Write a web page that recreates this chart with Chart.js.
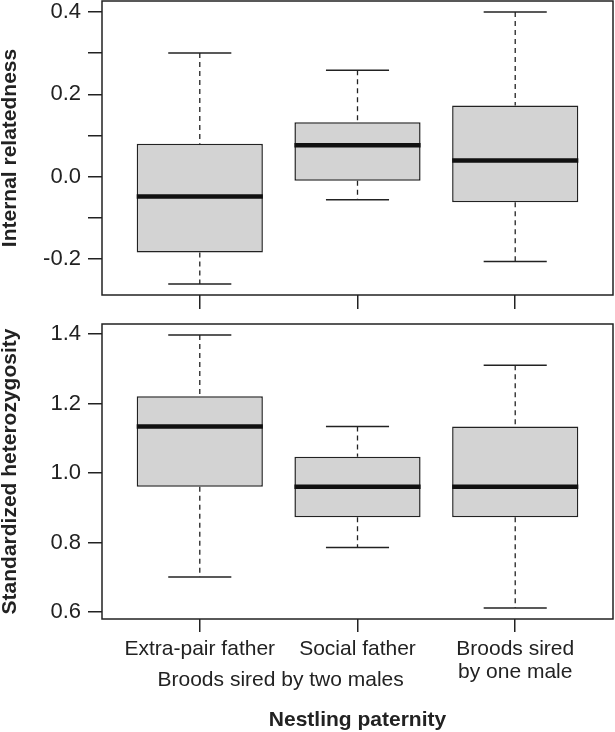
<!doctype html>
<html lang="en">
<head>
<meta charset="utf-8">
<title>Nestling paternity</title>
<script src="https://cdn.jsdelivr.net/npm/chart.js@4.4.0/dist/chart.umd.min.js"></script>
<style>
  html, body { margin: 0; padding: 0; background: #fff; }
  #wrap { position: relative; width: 615px; height: 732px; }
  #chartTop { position: absolute; left: 0; top: 0; }
  #chartBottom { position: absolute; left: 0; top: 310px; }
</style>
</head>
<body>
<div id="wrap">
  <canvas id="chartTop" width="615" height="310"></canvas>
  <canvas id="chartBottom" width="615" height="422"></canvas>
</div>
<script>
const categories = [["Extra-pair father"], ["Social father"], ["Broods sired", "by one male"]];
const groupLabel = "Broods sired by two males";
const xTitle = "Nestling paternity";

// internal relatedness (top panel)
const irLow  = [-0.261, -0.056, -0.206];
const irQ1   = [-0.184, -0.010, -0.062];
const irMed  = [-0.048,  0.076,  0.039];
const irQ3   = [ 0.080,  0.132,  0.173];
const irHigh = [ 0.300,  0.258,  0.400];
const irTicks  = [-0.2, -0.1, 0, 0.1, 0.2, 0.3, 0.4];
const irLabels = ["-0.2", "", "0.0", "", "0.2", "", "0.4"];

// standardized heterozygosity (bottom panel)
const shLow  = [0.701, 0.786, 0.612];
const shQ1   = [0.961, 0.873, 0.873];
const shMed  = [1.134, 0.961, 0.961];
const shQ3   = [1.221, 1.047, 1.134];
const shHigh = [1.397, 1.134, 1.310];
const shTicks  = [0.6, 0.8, 1.0, 1.2, 1.4];
const shLabels = ["0.6", "0.8", "1.0", "1.2", "1.4"];

const FONT = '"Liberation Sans", Arial, sans-serif';
const INK = '#222';

const frame = {
    id: 'frame',
    afterDatasetsDraw(chart) {
        const a = chart.chartArea, c = chart.ctx;
        c.save();
        c.strokeStyle = INK;
        c.lineWidth = 1.5;
        c.strokeRect(a.left, a.top, a.right - a.left, a.bottom - a.top);
        c.restore();
    }
};

const groupText = {
    id: 'groupText',
    afterDraw(chart) {
        const s = chart.scales.x, c = chart.ctx;
        c.save();
        c.font = '21px ' + FONT;
        c.fillStyle = INK;
        c.textAlign = 'center';
        c.textBaseline = 'middle';
        c.fillText(groupLabel, s.getPixelForValue(1.5) + 2, s.top + 61);
        c.restore();
    }
};

// half width of a mark, in pixels, for a width given in x units
let halfPx = (ctx, w) => {
    const s = ctx.chart.scales.x;
    return Math.abs(s.getPixelForValue(1 + w) - s.getPixelForValue(1));
};

let boxChart = (id, d) => {
    const xs = categories.map((c, i) => i + 1);
    const lo = Math.min(...d.low), hi = Math.max(...d.high);
    const ext = (hi - lo) * 0.04;

    let whisk = [];
    xs.forEach((x, i) => {
        whisk.push({x: x, y: d.high[i]}, {x: x, y: d.q3[i]}, {x: x, y: null},
                   {x: x, y: d.q1[i]}, {x: x, y: d.low[i]}, {x: x, y: null});
    });
    let caps = [];
    xs.forEach((x, i) => { caps.push({x: x, y: d.high[i]}, {x: x, y: d.low[i]}); });

    return new Chart(document.getElementById(id), {
        type: 'bar',
        data: {
            datasets: [
                {
                    type: 'line', order: 0, label: 'median',
                    data: xs.map((x, i) => ({x: x, y: d.med[i]})),
                    showLine: false,
                    pointStyle: 'line',
                    pointRadius: ctx => halfPx(ctx, 0.4),
                    pointBorderWidth: 4.5,
                    pointBorderColor: '#111'
                },
                {
                    type: 'bar', order: 1, label: 'box',
                    data: xs.map((x, i) => ({x: x, y: [d.q1[i], d.q3[i]]})),
                    backgroundColor: '#d3d3d3',
                    borderColor: INK,
                    borderWidth: 1.5,
                    borderSkipped: false,
                    barPercentage: 0.8,
                    categoryPercentage: 1
                },
                {
                    type: 'line', order: 2, label: 'caps',
                    data: caps,
                    showLine: false,
                    pointStyle: 'line',
                    pointRadius: ctx => halfPx(ctx, 0.2),
                    pointBorderWidth: 1.5,
                    pointBorderColor: INK
                },
                {
                    type: 'line', order: 3, label: 'whiskers',
                    data: whisk,
                    borderColor: INK,
                    borderWidth: 1.3,
                    borderDash: [5, 4],
                    pointRadius: 0,
                    spanGaps: false,
                    tension: 0
                }
            ]
        },
        options: {
            responsive: false,
            devicePixelRatio: 1,
            animation: false,
            events: [],
            layout: { padding: d.padding },
            plugins: { legend: { display: false }, tooltip: { enabled: false } },
            scales: {
                x: {
                    type: 'linear',
                    min: 0.38, max: 3.62,
                    offset: false,
                    border: { display: false },
                    grid: { drawOnChartArea: false, offset: false, color: INK, lineWidth: 1.5, tickLength: d.xTick },
                    afterBuildTicks: s => { s.ticks = xs.map(v => ({value: v})); },
                    ticks: {
                        display: d.showX,
                        autoSkip: false,
                        maxRotation: 0,
                        padding: 5,
                        color: INK,
                        font: { family: FONT, size: 21, lineHeight: 1.12 },
                        callback: (v, i) => categories[i]
                    },
                    title: {
                        display: d.showX,
                        text: xTitle,
                        color: INK,
                        padding: 0,
                        font: { family: FONT, size: 21, weight: 'bold', lineHeight: 1.14 }
                    },
                    afterFit: s => { s.height = d.xHeight; s.paddingLeft = 0; s.paddingRight = 0; }
                },
                y: {
                    type: 'linear',
                    min: lo - ext, max: hi + ext,
                    bounds: 'data',
                    border: { display: false },
                    grid: { drawOnChartArea: false, color: INK, lineWidth: 1.5, tickLength: 14 },
                    afterBuildTicks: s => { s.ticks = d.ticks.map(v => ({value: v})); },
                    ticks: {
                        autoSkip: false,
                        padding: 7,
                        color: INK,
                        font: { family: FONT, size: 22 },
                        callback: (v, i) => d.labels[i]
                    },
                    title: {
                        display: true,
                        text: d.title,
                        color: INK,
                        padding: 0,
                        font: { family: FONT, size: 21, weight: 'bold', lineHeight: 1 }
                    },
                    afterFit: s => { s.width = 102; s.paddingTop = 0; s.paddingBottom = 0; }
                }
            }
        },
        plugins: d.showX ? [frame, groupText] : [frame]
    });
};

boxChart('chartTop', {
    low: irLow, q1: irQ1, med: irMed, q3: irQ3, high: irHigh,
    ticks: irTicks, labels: irLabels, title: 'Internal relatedness',
    showX: false, xTick: 14, xHeight: 15,
    padding: { top: 1, right: 2, left: 0, bottom: 0 }
});

boxChart('chartBottom', {
    low: shLow, q1: shQ1, med: shMed, q3: shQ3, high: shHigh,
    ticks: shTicks, labels: shLabels, title: 'Standardized heterozygosity',
    showX: true, xTick: 13, xHeight: 113,
    padding: { top: 14, right: 2, left: 0, bottom: 0 }
});
</script>
</body>
</html>
